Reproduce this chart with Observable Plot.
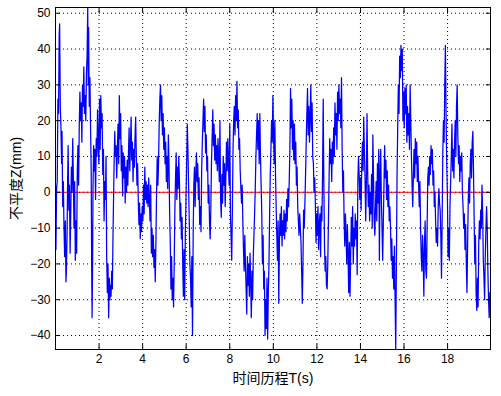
<!DOCTYPE html>
<html>
<head>
<meta charset="utf-8">
<script src="https://cdn.jsdelivr.net/npm/d3@7"></script>
<script src="https://cdn.jsdelivr.net/npm/@observablehq/plot@0.6"></script>
<style>
  html, body { margin: 0; padding: 0; background: #fff; }
  #chart svg { display: block; }
</style>
</head>
<body>
<div id="chart"></div>
<script>
// time (s)
const time = [
0.00,0.02,0.05,0.08,0.11,0.14,0.17,0.19,0.22,0.25,0.28,0.30,0.33,0.36,0.39,0.42,0.45,0.48,0.50,0.53,0.56,0.58,0.61,0.64,0.67,0.70,0.73,0.76,0.79,0.82,0.85,0.88,0.91,0.94,0.97,1.00,1.03,1.06,1.09,1.12,1.15,1.18,1.21,1.24,1.27,1.30,1.33,1.36,1.39,1.42,1.45,1.48,1.50,1.52,1.55,1.58,1.61,1.64,1.66,1.68,1.70,
1.72,1.75,1.78,1.81,1.84,1.87,1.90,1.93,1.96,1.99,2.02,2.05,2.08,2.11,2.14,2.17,2.20,2.23,2.26,2.29,2.32,2.35,2.38,2.41,2.44,2.47,2.50,
2.52,2.55,2.58,2.61,2.64,2.66,2.69,2.72,2.75,2.78,2.81,2.84,2.87,2.90,2.93,2.96,2.99,3.02,3.05,3.08,3.11,3.14,3.17,3.20,3.23,3.26,3.29,3.32,3.35,3.38,3.41,3.44,3.47,3.50,3.53,3.56,3.59,3.62,3.65,3.68,3.71,3.74,3.77,3.80,3.83,3.86,3.89,3.92,3.95,3.98,4.01,4.04,4.07,4.10,4.13,4.16,4.19,4.22,4.25,4.28,4.31,4.34,4.37,4.40,4.43,4.46,4.49,4.52,4.55,4.58,4.61,4.64,4.67,4.70,4.73,4.76,4.79,4.82,4.85,4.88,4.91,4.94,4.97,5.00,
5.03,5.06,5.09,5.12,5.15,5.18,5.21,5.24,5.27,5.30,5.33,5.36,5.39,5.42,5.45,5.48,5.51,5.54,5.57,5.60,5.63,5.66,5.69,5.72,5.75,5.78,5.81,5.84,5.87,5.90,5.93,5.96,5.99,6.02,6.05,6.08,6.11,6.14,6.17,6.20,6.23,6.26,6.29,6.32,6.35,6.38,6.41,6.44,6.47,6.50,6.53,6.56,6.59,6.62,6.65,6.68,6.71,6.74,6.77,6.80,6.83,6.86,6.89,6.92,6.95,6.98,7.01,7.04,7.07,7.10,7.13,7.16,7.19,7.22,7.25,7.28,7.31,7.34,7.37,7.40,7.43,7.46,7.49,7.52,
7.55,7.58,7.61,7.64,7.67,7.70,7.73,7.76,7.79,7.82,7.85,7.88,7.91,7.94,7.97,8.00,8.03,8.06,8.09,8.12,8.15,8.18,8.21,8.24,8.27,8.30,8.33,8.36,8.39,8.42,8.45,8.48,8.51,8.54,8.57,8.60,8.63,8.66,8.69,8.72,8.75,8.78,8.81,8.84,8.87,8.90,8.93,8.96,8.99,9.02,9.05,9.08,9.11,9.14,9.17,9.20,9.23,9.26,9.29,9.32,9.35,9.38,9.41,9.44,9.47,9.50,9.53,9.56,9.59,9.62,9.65,9.68,9.71,9.74,9.77,9.80,9.83,9.86,9.89,9.92,9.95,9.98,10.01,
10.04,10.07,10.10,10.13,10.16,10.19,10.22,10.25,10.28,10.31,10.34,10.37,10.40,10.43,10.46,10.49,10.52,10.55,10.58,10.61,10.64,10.67,10.70,10.73,10.76,10.79,10.82,10.85,10.88,10.91,10.94,10.97,11.00,11.03,11.06,11.09,11.12,11.15,11.18,11.21,11.24,11.27,11.30,11.33,11.36,11.39,11.42,11.45,11.48,11.51,11.54,11.57,11.60,11.63,11.66,11.69,11.72,11.75,11.78,11.81,11.84,11.87,11.90,11.93,11.96,11.99,12.02,12.05,12.08,12.11,12.14,12.17,12.20,12.23,12.26,12.29,12.32,12.35,12.38,12.41,12.44,12.47,12.50,12.53,
12.56,12.59,12.62,12.65,12.68,12.71,12.74,12.77,12.80,12.83,12.86,12.89,12.92,12.95,12.98,13.01,13.04,13.07,13.10,13.13,13.16,13.19,13.22,13.25,13.28,13.31,13.34,13.37,13.40,13.43,13.46,13.49,13.52,13.55,13.58,13.61,13.64,13.67,13.70,13.73,13.76,13.79,13.82,13.85,13.88,13.91,13.94,13.97,14.00,14.03,14.06,14.09,14.12,14.15,14.18,14.21,14.24,14.27,14.30,14.33,14.36,14.39,14.42,14.45,14.48,14.51,14.54,14.57,14.60,14.63,14.66,14.69,14.72,14.75,14.78,14.81,14.84,14.87,14.90,14.93,14.96,14.99,15.02,15.05,15.08,
15.11,15.14,15.17,15.20,15.23,15.26,15.29,15.32,15.35,15.38,15.41,15.44,15.47,15.50,15.53,15.56,15.59,15.62,15.65,15.68,15.71,15.74,15.77,15.80,15.83,15.86,15.89,15.92,15.95,15.98,16.01,16.04,16.07,16.10,16.13,16.16,16.19,16.22,16.25,16.28,16.31,16.34,16.37,16.40,16.43,16.46,16.49,16.52,16.55,16.58,16.61,16.64,16.67,16.70,16.73,16.76,16.79,16.82,16.85,16.88,16.91,16.94,16.97,17.00,17.03,17.06,17.09,17.12,17.15,17.18,17.21,17.24,17.27,17.30,17.33,17.36,17.39,17.42,17.45,17.48,17.51,17.54,17.57,17.60,17.63,
17.66,17.69,17.72,17.75,17.78,17.81,17.84,17.87,17.90,17.93,17.96,17.99,18.02,18.05,18.08,18.11,18.14,18.17,18.20,18.23,18.26,18.29,18.32,18.35,18.38,18.41,18.44,18.47,18.50,18.53,18.56,18.59,18.62,18.65,18.68,18.71,18.74,18.77,18.80,18.83,18.86,18.89,18.92,18.95,18.98,19.01,19.04,19.07,19.10,19.13,19.16,19.19,19.22,19.25,19.28,19.31,19.34,19.37,19.40,19.43,19.46,19.49,19.52,19.55,19.58,19.61,19.64,19.67,19.70,19.73,19.76,19.79,19.82,19.85,19.88,19.91,19.94,19.97
];
// road roughness Z (mm)
const roughness = [
2,-16,1,3,26,22,44,47,24,18,8,17,-4,3,-10,-18,-8,-25,-22,-12,5,13,-5,2,-17,-6,7,0,15,4,-10,3,-19,-8,-17,6,13,2,18,28,20,25,14,30,24,35,22,27,20,33,38,51.5,30,46,24,32,18,5,-20,-35,-22,
0,13,6,12,-2,15,10,23,14,8,26,12,27,18,22,5,12,-8,3,-2,10,-18,-28,-20,-35,-24,-30,
-26,-29,-22,-27,-12,-4,8,17,10,13,4,12,19,8,27,15,22,6,13,-1,11,4,10,-3,7,0,9,2,11,18,6,13,21,9,14,3,12,7,15,21,10,2,8,-2,-9,-3,-13,-6,-11,-4,-8,2,-6,7,-2,3,-3,2,-4,4,-2,-8,2,-17,-10,-18,-12,-21,-16,-25,-14,0,10,2,8,19,26,30,20,27,16,22,12,18,
8,14,3,10,1,16,8,-6,-14,-27,-18,-30,-24,-32,-20,-5,4,11,-2,7,1,10,3,-8,-3,-13,-7,-20,-29,-16,-30,-12,-2,8,19,12,2,-8,-20,-24,-32,-18,-40,-12,2,7,-4,5,11,3,8,-2,4,-9,-4,-11,6,14,20,26,17,24,11,16,6,10,-3,2,-8,-13,-5,8,15,23,13,19,9,16,8,13,6,15,9,3,
20,-2,-7,5,-3,10,2,8,-4,4,14,6,15,8,2,19,-6,-12,-19,-5,12,20,24,16,27,20,31,18,23,12,15,6,1,-3,2,-8,-16,-22,-12,-20,-27,-34,-18,-26,-20,-29,-17,-25,-35,-22,-30,-18,-12,-6,1,10,16,22,12,20,8,22,10,2,-6,-20,-12,-27,-22,-40,-30,-38,-24,-41,-28,-20,-6,5,12,20,14,27,16,
8,20,5,-4,-12,-19,-8,-31,-14,-6,-12,-4,-15,-8,-12,-5,-13,-6,-11,-2,-8,1,-4,3,12,29,18,26,12,20,9,19,8,14,2,7,-4,-8,-12,-6,-10,-14,-22,-31,-20,-5,-10,-3,5,14,22,29,16,24,14,21,30,17,25,10,8,0,4,-3,-14,-6,-12,-4,-16,-9,-6,-18,-4,-8,5,26,2,-15,-22,-18,-26,-27,-20,-8,
4,15,8,12,3,14,8,18,10,25,16,22,12,28,20,30,22,26,18,32,12,0,6,-8,-15,-6,-12,-20,-9,-17,-28,-14,-29,-18,-7,-15,-4,-20,-10,-15,-6,-13,-8,-23,3,10,5,-2,4,-5,8,14,6,21,12,4,-8,2,22,6,-4,2,-8,0,-6,5,-10,16,4,-8,-12,-4,3,-8,8,-3,12,-19,5,12,-2,-10,-19,-8,2,
13,4,9,-2,6,-4,2,-8,-4,-10,-19,-13,-24,-18,-27,-15,-30,-44,-20,5,18,30,22,38,32,41,34,40,20,28,18,29,22,30,14,24,16,22,12,30,20,10,2,-4,5,12,4,15,8,14,3,10,2,-4,3,-10,-18,-22,-12,-18,-29,-14,-8,-22,-24,-10,4,7,2,10,5,13,8,12,2,6,-4,0,-8,-14,-10,-15,-4,1,-3,
-5,-12,-24,-8,11,20,14,30,41,22,8,0,-18,-10,-19,-4,3,10,19,6,12,4,14,20,10,24,30,16,8,13,3,10,6,11,0,-4,-10,-6,-16,-9,-20,-28,-14,-2,4,-3,8,12,4,14,17,6,-8,-20,-12,-28,-33,-24,-32,-14,-8,-13,-5,-10,2,-6,-19,-24,-30,-18,-10,-4,-10,-22,-30,-35,-28,-32
];
const zeroLevel = [0];
const xTicks = [2, 4, 6, 8, 10, 12, 14, 16, 18];
const yTicks = [-40, -30, -20, -10, 0, 10, 20, 30, 40, 50];
const xLabel = "时间历程T(s)";
const yLabel = "不平度Z(mm)";

const data = time.map((t, i) => ({t, z: roughness[i]}));

const chart = Plot.plot({
  width: 501,
  height: 396,
  marginLeft: 55,
  marginRight: 11,
  marginTop: 7,
  marginBottom: 47,
  style: {fontFamily: "'Liberation Sans', Arial, 'Noto Sans CJK SC', sans-serif", fontSize: "12px", color: "#000", background: "#fff"},
  x: {domain: [0, 19.97]},
  y: {domain: [-43.9, 51.6]},
  marks: [
    Plot.gridX(xTicks, {stroke: "#000", strokeOpacity: 1, strokeDasharray: "1,3"}),
    Plot.gridY(yTicks, {stroke: "#000", strokeOpacity: 1, strokeDasharray: "1,3"}),
    Plot.ruleY(zeroLevel, {stroke: "#ff0000", strokeWidth: 1}),
    Plot.line(data, {x: "t", y: "z", stroke: "#0000ff", strokeWidth: 1.25, clip: true}),
    Plot.frame({stroke: "#000"}),
    Plot.axisX(xTicks, {anchor: "bottom", tickSize: -5, tickPadding: 10, fontSize: 12, label: null}),
    Plot.axisX(xTicks, {anchor: "bottom", tickSize: 0, tickFormat: () => "", label: xLabel, labelAnchor: "center", labelOffset: 33, labelArrow: "none", fontSize: 14}),
    Plot.axisX(xTicks, {anchor: "top", tickSize: -5, tickFormat: () => "", label: null}),
    Plot.axisY(yTicks, {anchor: "left", tickSize: -5, tickPadding: 10, fontSize: 12, label: null}),
    Plot.axisY(yTicks, {anchor: "left", tickSize: 0, tickFormat: () => "", label: yLabel, labelAnchor: "center", labelOffset: 44, labelArrow: "none", fontSize: 14}),
    Plot.axisY(yTicks, {anchor: "right", tickSize: -5, tickFormat: () => "", label: null})
  ]
});
document.getElementById("chart").appendChild(chart);
</script>
</body>
</html>
